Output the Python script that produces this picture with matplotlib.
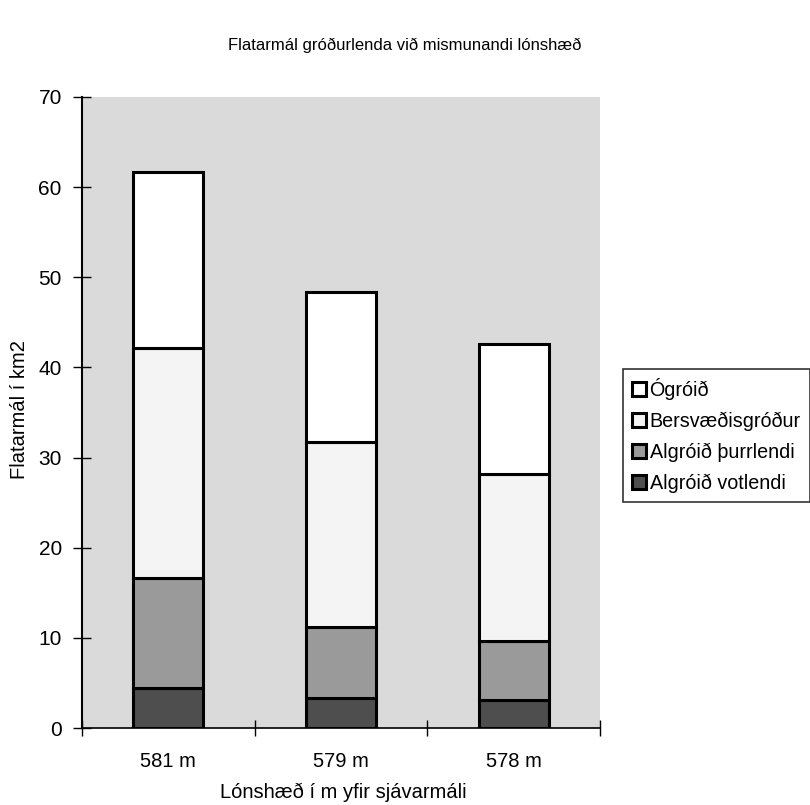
import matplotlib
matplotlib.use("Agg")
import matplotlib.pyplot as plt
import numpy as np

plt.rcParams['font.family'] = ['Liberation Sans', 'DejaVu Sans']

categories = ["581 m", "579 m", "578 m"]
series_names = ["Algróið votlendi", "Algróið þurrlendi", "Bersvæðisgróður", "Ógróið"]
votlendi = [4.4, 3.3, 3.1]
thurrlendi = [12.2, 7.9, 6.5]
bersvaedi = [25.6, 20.5, 18.6]
ogroid = [19.5, 16.7, 14.4]
series_values = [votlendi, thurrlendi, bersvaedi, ogroid]
yticks = [0, 10, 20, 30, 40, 50, 60, 70]

title = "Flatarmál gróðurlenda við mismunandi lónshæð"
xlabel = "Lónshæð í m yfir sjávarmáli"
ylabel = "Flatarmál í km2"

colors = ["#4e4e4e", "#9a9a9a", "#f4f4f4", "#ffffff"]

fig = plt.figure(figsize=(8.10, 8.05), dpi=100)
ax = fig.add_axes([82/810, 1-728/805, (600-82)/810, (728-97)/805])
ax.set_facecolor("#dadada")

x = np.arange(len(categories))
bottom = np.zeros(len(categories))
handles = []
for name, vals, c in zip(series_names, series_values, colors):
    h = ax.bar(x, vals, width=0.405, bottom=bottom, color=c, edgecolor="black",
               linewidth=2.2, label=name, zorder=3)
    handles.append(h)
    bottom += np.array(vals)

ax.set_xlim(-0.5, len(categories) - 0.5)
ax.set_ylim(0, 70)
ax.set_yticks(yticks)
ax.set_yticklabels([str(t) for t in yticks], fontsize=15)
ax.set_xticks(np.arange(len(categories) + 1) - 0.5)
ax.set_xticklabels([])
ax.set_xticks(x, minor=True)
ax.set_xticklabels(categories, minor=True, fontsize=14.5)
ax.tick_params(axis='x', which='minor', length=0, pad=17)
ax.tick_params(axis='x', which='major', direction='inout', length=12, width=1)
ax.tick_params(axis='y', direction='inout', length=13, width=1, pad=8)
for s in ["top", "right"]:
    ax.spines[s].set_visible(False)
ax.spines["left"].set_linewidth(1.5)
ax.spines["bottom"].set_linewidth(1.2)

fig.text(405/810, 1-45/805, title, ha="center", va="center", fontsize=12)
fig.text(343/810, 1-792/805, xlabel, ha="center", va="center", fontsize=14.5)
fig.text(20/810, 1-410/805, ylabel, ha="center", va="center", rotation=90, fontsize=14.5)

leg = fig.legend(handles[::-1], series_names[::-1], loc="upper left",
                 bbox_to_anchor=(623/810, 1-369/805), fontsize=14.2,
                 frameon=True, fancybox=False, edgecolor="black",
                 handlelength=0.7, handleheight=0.7, handletextpad=0.2,
                 labelspacing=0.6, borderpad=0.45, borderaxespad=0)
leg.get_frame().set_linewidth(1.2)

fig.savefig("out.png", dpi=100)
